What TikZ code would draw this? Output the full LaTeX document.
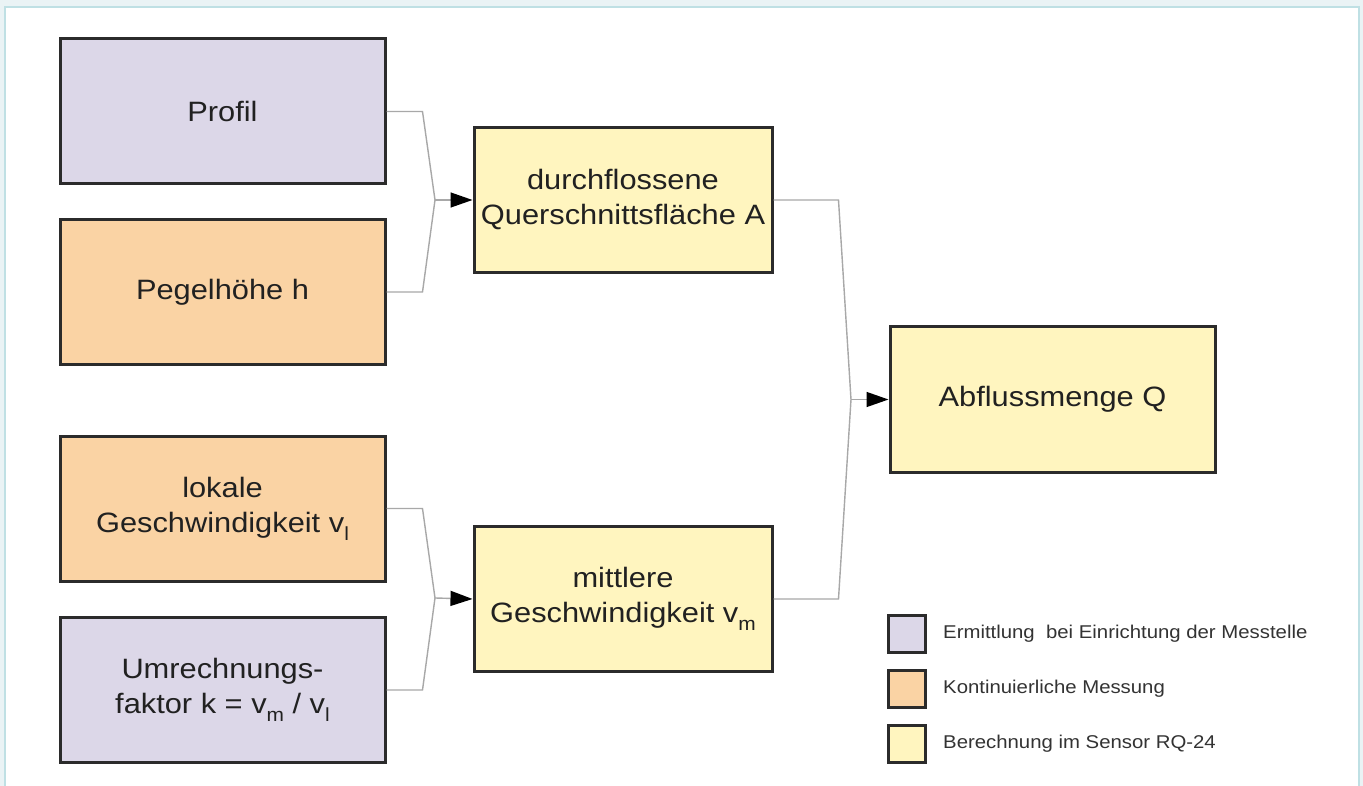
\documentclass[tikz,border=0pt]{standalone}
\usepackage{fontspec}
\setmainfont{Liberation Sans}[FakeStretch=1.1]
\usetikzlibrary{arrows.meta}
\definecolor{bgout}{HTML}{EAF3F5}
\definecolor{frame}{HTML}{BFE0E4}
\definecolor{purp}{HTML}{DCD7E8}
\definecolor{oran}{HTML}{FAD3A4}
\definecolor{yell}{HTML}{FFF5BF}
\definecolor{edge}{HTML}{2B2B2B}
\definecolor{conn}{HTML}{A8A8A8}
\newcommand{\lowsub}[1]{\raisebox{-0.55ex}{\fontsize{19}{19}\selectfont #1}}
\tikzset{
  box/.style={draw=edge, line width=3pt, minimum width=325pt, minimum height=145pt,
    align=center, inner sep=0pt, font=\fontsize{28}{35}\selectfont, text=black!87},
  cbox/.style={box, minimum width=298pt},
  leg/.style={draw=edge, line width=3pt, minimum width=37pt, minimum height=37pt, inner sep=0pt},
  legtxt/.style={anchor=west, font=\fontsize{18.5}{22}\selectfont, text=black!80, inner sep=0pt},
  wire/.style={draw=conn, line width=1.4pt},
  arr/.style={wire, -{Triangle[length=22pt,width=15pt,color=black]}}
}
\begin{document}
\begin{tikzpicture}[x=1pt,y=-1pt]
\useasboundingbox (0,0) rectangle (1363,786);
\fill[bgout] (0,0) rectangle (1363,786);
\fill[white, draw=frame, line width=1.5pt] (5,7) rectangle (1359,800);

\node[box, fill=purp] (profil) at (222.5,111.5) {Profil};
\node[box, fill=oran] (pegel) at (222.5,292) {Pegelhöhe h};
\node[box, fill=oran] (lokal) at (222.5,508.5) {lokale\\Geschwindigkeit v\lowsub{l}};
\node[box, fill=purp] (umr) at (222.5,690) {Umrechnungs-\\faktor k = v\lowsub{m} / v\lowsub{l}};
\node[cbox, fill=yell] (durch) at (623,200) {durchflossene\\Querschnittsfläche A};
\node[cbox, fill=yell] (mittl) at (623,599) {mittlere\\Geschwindigkeit v\lowsub{m}};
\node[box, fill=yell] (abfl) at (1052.5,399.5) {Abflussmenge Q};

\coordinate (j1) at (435,200);
\coordinate (j2) at (435,598);
\coordinate (j3) at (851,399.5);

\draw[wire] (profil.east) -- ++(36,0) -- (j1);
\draw[wire] (pegel.east) -- ++(36,0) -- (j1);
\draw[arr] (j1) -- (durch.west);
\draw[wire] (lokal.east) -- ++(36,0) -- (j2);
\draw[wire] (umr.east) -- ++(36,0) -- (j2);
\draw[arr] (j2) -- (mittl.west);
\draw[wire] (durch.east) -- ++(65,0) -- (j3);
\draw[wire] (mittl.east) -- ++(65,0) -- (j3);
\draw[arr] (j3) -- (abfl.west);

\node[leg, fill=purp] (l1) at (907,634) {};
\node[leg, fill=oran] (l2) at (907,689) {};
\node[leg, fill=yell] (l3) at (907,744) {};
\node[legtxt] (t1) at (943,634) {Ermittlung\ \ bei Einrichtung der Messtelle};
\node[legtxt] (t2) at (943,689) {Kontinuierliche Messung};
\node[legtxt] (t3) at (943,744) {Berechnung im Sensor RQ-24};
\end{tikzpicture}
\end{document}
